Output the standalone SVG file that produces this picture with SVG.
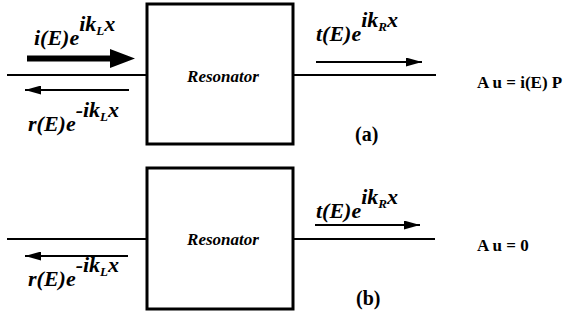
<svg xmlns="http://www.w3.org/2000/svg" width="579" height="322" viewBox="0 0 579 322">
<style>
.ln{stroke:#000;stroke-width:2;fill:none}
.box{stroke:#000;stroke-width:3;fill:#fff}
text{font-family:"Liberation Serif","Times New Roman",serif;fill:#000;font-weight:bold}
.lbl{font-style:italic;font-size:22px}
.sub{font-size:13px}
.res{font-style:italic;font-size:17px}
.eq{font-size:17px}
.tag{font-size:20px}
</style>
<defs>
<marker id="ah" markerWidth="16" markerHeight="9" refX="16" refY="4.5" orient="auto" markerUnits="userSpaceOnUse" viewBox="0 0 16 9"><path d="M0,0 L16,4.5 L0,9 Z" fill="#000"/></marker>
</defs>
<g id="connectors">
<line class="ln" x1="7" y1="75" x2="147" y2="75"/>
<line class="ln" x1="293" y1="75" x2="436" y2="75"/>
<line class="ln" x1="7" y1="239" x2="147" y2="239"/>
<line class="ln" x1="293" y1="239" x2="435" y2="239"/>
<path d="M27,55.5 L110,55.5 L110,49 L135,58.5 L110,68 L110,61.5 L27,61.5 Z" fill="#000"/>
<line class="ln" x1="129" y1="90" x2="25" y2="90" marker-end="url(#ah)"/>
<line class="ln" x1="316" y1="62" x2="422" y2="62" marker-end="url(#ah)"/>
<line class="ln" x1="128" y1="256" x2="25" y2="256" marker-end="url(#ah)"/>
<line class="ln" x1="315" y1="225" x2="420" y2="225" marker-end="url(#ah)"/>
</g>
<g id="resonator-a">
<rect class="box" x="147" y="4" width="146" height="140"/>
<text class="res" x="223" y="82" text-anchor="middle">Resonator</text>
</g>
<g id="resonator-b">
<rect class="box" x="147" y="168" width="146" height="141"/>
<text class="res" x="223" y="245" text-anchor="middle">Resonator</text>
</g>
<g id="labels">
<text class="lbl" x="34" y="45">i(E)e<tspan dy="-14">ik</tspan><tspan class="sub" dy="4">L</tspan><tspan dy="-4">x</tspan></text>
<text class="lbl" x="28" y="131">r(E)e<tspan dy="-14">-ik</tspan><tspan class="sub" dy="4">L</tspan><tspan dy="-4">x</tspan></text>
<text class="lbl" x="316" y="41">t(E)e<tspan dy="-14">ik</tspan><tspan class="sub" dy="4">R</tspan><tspan dy="-4">x</tspan></text>
<text class="eq" x="477" y="88">A u = i(E) P</text>
<text class="tag" x="355" y="141">(a)</text>
<text class="lbl" x="316" y="218">t(E)e<tspan dy="-14">ik</tspan><tspan class="sub" dy="4">R</tspan><tspan dy="-4">x</tspan></text>
<text class="lbl" x="28" y="286">r(E)e<tspan dy="-14">-ik</tspan><tspan class="sub" dy="4">L</tspan><tspan dy="-4">x</tspan></text>
<text class="eq" x="477" y="251">A u = 0</text>
<text class="tag" x="356" y="305">(b)</text>
</g>
</svg>
